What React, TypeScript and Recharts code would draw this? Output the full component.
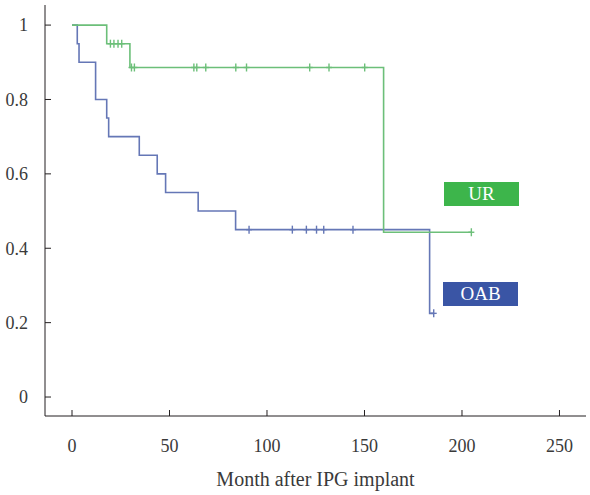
import { LineChart, Line, XAxis, YAxis, Label } from 'recharts'

// Kaplan-Meier estimates: t = month, s = survival, c = censored
const urTimes = [0, 17.8, 19.7, 21.5, 23.6, 25.5, 29.7, 30.5, 32, 62.5, 64, 68.6, 84, 89.5, 121.9, 131.8, 150.1, 159.8, 204.8]
const urSurvival = [1, 0.95, 0.95, 0.95, 0.95, 0.95, 0.886, 0.886, 0.886, 0.886, 0.886, 0.886, 0.886, 0.886, 0.886, 0.886, 0.886, 0.443, 0.443]
const urCensored = [0, 0, 1, 1, 1, 1, 0, 1, 1, 1, 1, 1, 1, 1, 1, 1, 1, 0, 1]

const oabTimes = [0, 2.7, 3.6, 12.1, 17.8, 18.8, 34.5, 43.7, 48, 64.7, 83.9, 90.8, 113, 120.2, 125.4, 129.1, 144.1, 183.4, 185.5]
const oabSurvival = [1, 0.95, 0.9, 0.8, 0.75, 0.7, 0.65, 0.6, 0.55, 0.5, 0.45, 0.45, 0.45, 0.45, 0.45, 0.45, 0.45, 0.225, 0.225]
const oabCensored = [0, 0, 0, 0, 0, 0, 0, 0, 0, 0, 0, 1, 1, 1, 1, 1, 1, 0, 1]

const xTicks = [0, 50, 100, 150, 200, 250]
const yTicks = [0, 0.2, 0.4, 0.6, 0.8, 1]

const GREEN_LINE = '#6cbf79'
const BLUE_LINE = '#6577b6'
const GREEN_BOX = '#3db54b'
const BLUE_BOX = '#3a55a5'
const AXIS = '#231f20'
const TEXT = '#3a3a3a'
const FONT = '"Liberation Serif", "DejaVu Serif", serif'

const toRows = (t: number[], s: number[], c: number[]) =>
  t.map((v, i) => ({ t: v, s: s[i], c: c[i] === 1 }))

const urData = toRows(urTimes, urSurvival, urCensored)
const oabData = toRows(oabTimes, oabSurvival, oabCensored)

// "+" mark for censored observations
const censorMark = (color: string) => (props: any) => {
  const { cx, cy, payload, index } = props
  if (!payload?.c) return <g key={`n-${index}`} />
  return (
    <g key={`c-${index}`} stroke={color} strokeWidth={1.4}>
      <line x1={cx} x2={cx} y1={cy - 4} y2={cy + 4} />
      <line x1={cx - 3} x2={cx + 3} y1={cy} y2={cy} />
    </g>
  )
}

const boxStyle = (bg: string, left: number, top: number): React.CSSProperties => ({
  position: 'absolute',
  left,
  top,
  width: 75,
  height: 24,
  background: bg,
  color: '#ffffff',
  fontFamily: FONT,
  fontSize: 19,
  lineHeight: '24px',
  textAlign: 'center',
})

export default function App() {
  return (
    <div style={{ position: 'fixed', left: 0, top: 0, width: 590, height: 495, background: '#fff' }}>
      <LineChart
        width={590}
        height={495}
        margin={{ top: 5, right: 4, left: 0, bottom: 0 }}
      >
        <XAxis
          type="number"
          dataKey="t"
          domain={[-13.85, 263.6]}
          ticks={xTicks}
          allowDataOverflow
          height={79}
          stroke={AXIS}
          tickSize={-6}
          tickMargin={29}
          tick={{ fill: TEXT, fontSize: 18, fontFamily: FONT }}
        >
          <Label
            value="Month after IPG implant"
            position="insideBottom"
            offset={9}
            style={{ fill: TEXT, fontSize: 20, fontFamily: FONT }}
          />
        </XAxis>
        <YAxis
          type="number"
          domain={[-0.051, 1.054]}
          ticks={yTicks}
          allowDataOverflow
          width={45}
          stroke={AXIS}
          tickSize={-6}
          tickMargin={23}
          tick={{ fill: TEXT, fontSize: 18, fontFamily: FONT }}
        />
        <Line
          data={oabData}
          dataKey="s"
          type="stepAfter"
          stroke={BLUE_LINE}
          strokeWidth={1.6}
          dot={censorMark(BLUE_LINE)}
          activeDot={false}
          isAnimationActive={false}
        />
        <Line
          data={urData}
          dataKey="s"
          type="stepAfter"
          stroke={GREEN_LINE}
          strokeWidth={1.6}
          dot={censorMark(GREEN_LINE)}
          activeDot={false}
          isAnimationActive={false}
        />
      </LineChart>
      <div style={boxStyle(GREEN_BOX, 444, 182)}>UR</div>
      <div style={boxStyle(BLUE_BOX, 443, 282)}>OAB</div>
    </div>
  )
}
